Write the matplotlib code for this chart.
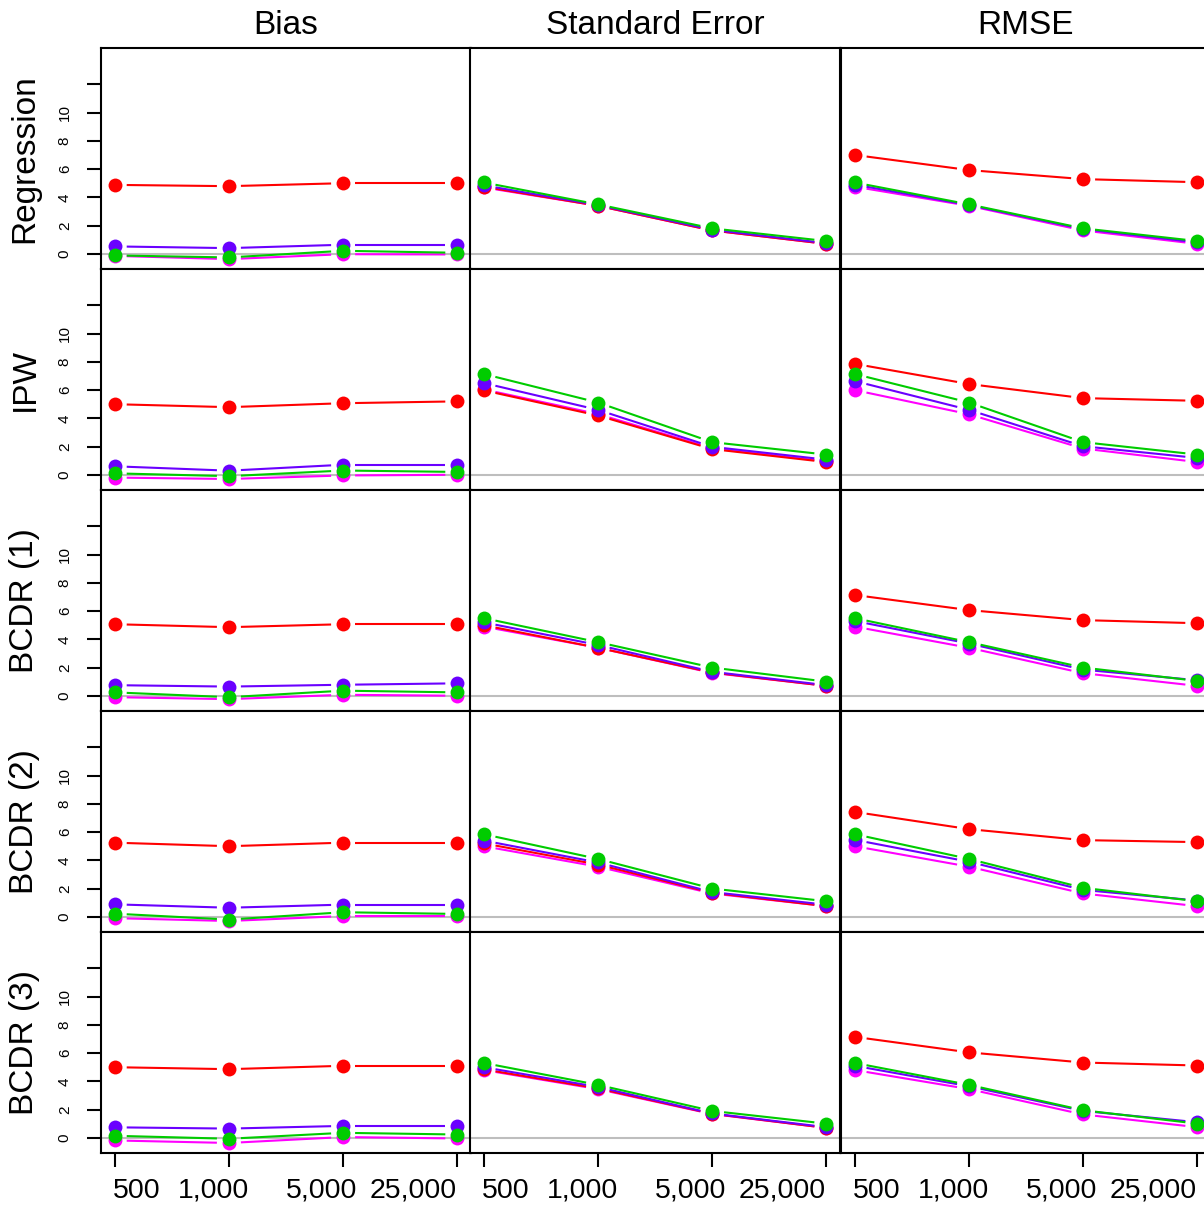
import numpy as np
import matplotlib
matplotlib.use("Agg")
import matplotlib.pyplot as plt

plt.rcParams['font.family'] = ['Liberation Sans', 'DejaVu Sans']

sizes = ["500", "1,000", "5,000", "25,000"]
methods = ["Regression", "IPW", "BCDR (1)", "BCDR (2)", "BCDR (3)"]
metrics = ["Bias", "Standard Error", "RMSE"]

# rows follow methods, columns follow sizes
bias_red = [[4.88, 4.79, 5.00, 5.00],
            [5.00, 4.79, 5.07, 5.20],
            [5.07, 4.86, 5.07, 5.07],
            [5.25, 5.00, 5.25, 5.25],
            [5.00, 4.86, 5.10, 5.10]]
bias_purple = [[0.52, 0.40, 0.64, 0.64],
               [0.60, 0.29, 0.71, 0.71],
               [0.75, 0.65, 0.78, 0.88],
               [0.88, 0.64, 0.86, 0.86],
               [0.74, 0.65, 0.84, 0.84]]
bias_magenta = [[-0.15, -0.38, -0.03, -0.05],
                [-0.20, -0.30, -0.05, 0.00],
                [-0.10, -0.24, 0.07, 0.00],
                [-0.10, -0.30, 0.05, 0.05],
                [-0.19, -0.37, 0.05, -0.05]]
bias_green = [[-0.12, -0.26, 0.21, 0.07],
              [0.10, -0.10, 0.30, 0.20],
              [0.24, -0.10, 0.36, 0.24],
              [0.22, -0.20, 0.32, 0.20],
              [0.14, -0.07, 0.35, 0.23]]

se_red = [[4.75, 3.40, 1.65, 0.70],
          [5.98, 4.20, 1.82, 0.90],
          [5.00, 3.40, 1.65, 0.70],
          [5.20, 3.70, 1.70, 0.75],
          [4.85, 3.50, 1.70, 0.70]]
se_purple = [[4.85, 3.45, 1.70, 0.75],
             [6.50, 4.60, 1.98, 1.07],
             [5.20, 3.60, 1.70, 0.75],
             [5.40, 3.85, 1.75, 0.85],
             [5.00, 3.60, 1.72, 0.75]]
se_magenta = [[4.70, 3.40, 1.65, 0.70],
              [6.05, 4.30, 1.88, 0.95],
              [4.90, 3.40, 1.62, 0.70],
              [5.00, 3.55, 1.65, 0.75],
              [4.80, 3.45, 1.68, 0.70]]
se_green = [[5.05, 3.50, 1.80, 0.90],
            [7.14, 5.12, 2.31, 1.43],
            [5.50, 3.80, 2.00, 1.00],
            [5.85, 4.10, 2.00, 1.10],
            [5.30, 3.75, 1.90, 1.00]]

rmse_red = [[7.00, 5.93, 5.29, 5.07],
            [7.86, 6.43, 5.43, 5.24],
            [7.14, 6.07, 5.36, 5.14],
            [7.43, 6.21, 5.43, 5.29],
            [7.15, 6.05, 5.33, 5.12]]
rmse_purple = [[4.90, 3.45, 1.75, 0.80],
               [6.64, 4.60, 2.02, 1.19],
               [5.30, 3.70, 1.85, 1.10],
               [5.45, 3.90, 1.90, 1.15],
               [5.10, 3.65, 1.90, 1.10]]
rmse_magenta = [[4.75, 3.40, 1.65, 0.70],
                [6.00, 4.29, 1.86, 0.90],
                [4.90, 3.40, 1.60, 0.70],
                [5.00, 3.55, 1.65, 0.75],
                [4.80, 3.45, 1.65, 0.75]]
rmse_green = [[5.05, 3.50, 1.80, 0.90],
              [7.14, 5.12, 2.31, 1.43],
              [5.50, 3.80, 2.00, 1.05],
              [5.85, 4.10, 2.05, 1.10],
              [5.30, 3.75, 1.95, 1.00]]

panels = [
    [("#FF00FF", bias_magenta), ("#FF0000", bias_red), ("#6A00FF", bias_purple), ("#00CC00", bias_green)],
    [("#FF00FF", se_magenta), ("#FF0000", se_red), ("#6A00FF", se_purple), ("#00CC00", se_green)],
    [("#FF00FF", rmse_magenta), ("#FF0000", rmse_red), ("#6A00FF", rmse_purple), ("#00CC00", rmse_green)],
]

W, H = 1204, 1207
fig = plt.figure(figsize=(W / 100, H / 100), dpi=100)

col_left = [101, 470, 841]
panel_w = 370
row_top = 48
panel_h = 221
gap_px = 12


def draw_b(ax, xs, ys, color):
    # points joined by lines that stop short of each point
    pts = ax.transData.transform(np.column_stack([xs, ys]))
    inv = ax.transData.inverted()
    for i in range(len(pts) - 1):
        p0, p1 = pts[i], pts[i + 1]
        d = p1 - p0
        L = np.hypot(d[0], d[1])
        if L <= 2 * gap_px:
            continue
        u = d / L
        a = inv.transform(p0 + u * gap_px)
        b = inv.transform(p1 - u * gap_px)
        ax.plot([a[0], b[0]], [a[1], b[1]], color=color, lw=1.5,
                solid_capstyle='butt')
    ax.plot(xs, ys, 'o', color=color, markersize=10, markeredgewidth=0)


x = np.arange(1, 5)
label_frac = [0.097, 0.305, 0.597, 0.843]

for r in range(5):
    for c in range(3):
        left = col_left[c]
        top = row_top + r * panel_h
        ax = fig.add_axes([left / W, 1 - (top + panel_h) / H, panel_w / W, panel_h / H])
        ax.set_xlim(0.88, 4.12)
        ax.set_ylim(-1.08, 14.58)
        for s in ax.spines.values():
            s.set_linewidth(1.5)
        ax.axhline(0, color="#BEBEBE", lw=1.5, zorder=1)
        for color, vals in panels[c]:
            draw_b(ax, x, vals[r], color)

        if c == 0:
            ax.set_yticks(range(0, 13, 2))
            ax.set_yticklabels(["0", "2", "4", "6", "8", "10", ""])
            ax.tick_params(axis='y', length=10, width=1.5, labelsize=11,
                           labelrotation=90, pad=11)
            for lab in ax.get_yticklabels():
                lab.set_va('center')
        else:
            ax.set_yticks([])

        if r == 4:
            ax.set_xticks(x)
            ax.set_xticklabels([])
            ax.tick_params(axis='x', length=10, width=1.5)
            for k in range(4):
                ax.text(label_frac[k], -0.17, sizes[k], transform=ax.transAxes,
                        ha='center', va='center', fontsize=20.5)
        else:
            ax.set_xticks([])

for c in range(3):
    fig.text((col_left[c] + panel_w / 2) / W, 1 - 25 / H, metrics[c],
             ha='center', va='center', fontsize=24)

for r in range(5):
    fig.text(25 / W, 1 - (row_top + r * panel_h + panel_h / 2) / H, methods[r],
             ha='center', va='center', rotation=90, fontsize=24)

fig.savefig("out.png", dpi=100)
